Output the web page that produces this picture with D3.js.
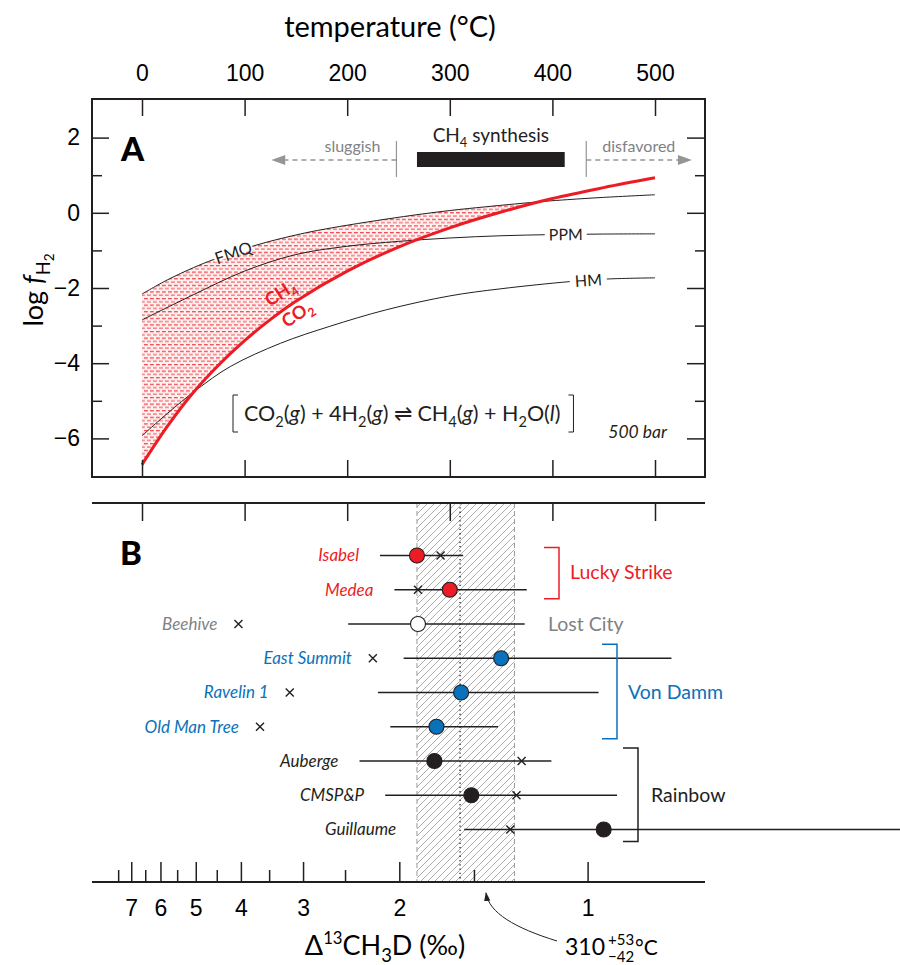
<!DOCTYPE html>
<html>
<head>
<meta charset="utf-8">
<script src="https://cdn.jsdelivr.net/npm/d3@7"></script>
<style>
  body { margin: 0; background: #fff; }
  svg { font-family: "Lato", "Open Sans", sans-serif; }
</style>
</head>
<body>
<svg id="chart" width="900" height="965"></svg>
<script>
// ---------- Panel A: log fH2 buffers and CO2–CH4 equilibrium (500 bar) ----------
const tempTicks = [0, 100, 200, 300, 400, 500];
const logMajorTicks = [-6, -4, -2, 0, 2];
const logMinorTicks = [-5, -3, -1, 1];

const fmqT   = [0, 25, 50, 70, 110, 150, 185, 255, 300, 335, 390, 415, 450, 500];
const fmqLog = [-2.16, -1.78, -1.46, -1.24, -0.87, -0.59, -0.40, -0.10, 0.06, 0.16, 0.30, 0.35, 0.41, 0.48];

const ppmT   = [0, 50, 100, 150, 200, 250, 300, 350, 400, 450, 500];
const ppmLog = [-2.85, -2.18, -1.55, -1.11, -0.89, -0.76, -0.67, -0.61, -0.58, -0.565, -0.56];

const hmT    = [0, 25, 53, 86, 135, 183, 238, 300, 350, 417, 454, 500];
const hmLog  = [-5.93, -5.33, -4.71, -4.09, -3.47, -3.02, -2.58, -2.21, -2.02, -1.83, -1.76, -1.73];

const eqT    = [0, 25, 50, 75, 100, 125, 150, 200, 250, 300, 350, 400, 450, 500];
const eqLog  = [-6.70, -5.67, -4.78, -4.04, -3.40, -2.84, -2.35, -1.55, -0.91, -0.40, 0.02, 0.38, 0.67, 0.93];

// temperature windows drawn above the curves (°C)
const synthesisRange = [268, 412];
const sluggishBelow = 248, sluggishArrowTip = 126;
const disfavoredAbove = 433, disfavoredArrowTip = 536;

// ---------- Panel B: apparent Δ13CH3D temperatures (°C) ----------
const sites = ["Isabel", "Medea", "Beehive", "East Summit", "Ravelin 1", "Old Man Tree", "Auberge", "CMSP&P", "Guillaume"];
const fields = ["Lucky Strike", "Lucky Strike", "Lost City", "Von Damm", "Von Damm", "Von Damm", "Rainbow", "Rainbow", "Rainbow"];
const clumpedTemp = [268, 300, 269, 350, 311, 287, 285, 321, 450];
const clumpedLow  = [232, 246, 201, 255, 230, 242, 212, 237, 314];
const clumpedHigh = [313, 375, 373, 516, 445, 347, 399, 463, 760];
const ventTemp    = [291, 269, 94, 225, 144, 115, 370, 365, 359];

const meanTemp = 310, meanPlus = 53, meanMinus = 42;

const deltaMajorTicks = [1, 2, 3, 4, 5, 6, 7];
const deltaMinorTicks = [1.5, 2.5, 3.5, 4.5, 5.5, 6.5, 7.5];

// ---------- styling ----------
const ink = "#231f20";
const red = "#ed1c24";
const blue = "#0a72ba";
const grey = "#808285";
const lightGrey = "#939598";
const fieldStyle = {
  "Lucky Strike": { text: red,  fill: red },
  "Lost City":    { text: grey, fill: "#ffffff" },
  "Von Damm":     { text: blue, fill: blue },
  "Rainbow":      { text: ink,  fill: ink }
};

const svg = d3.select("#chart");
const box = { left: 92, right: 705, top: 99, bottom: 477 };

const x = d3.scaleLinear().domain([0, 500]).range([142, 655]);
const y = d3.scaleLinear().domain([-7, 3]).range([476, 100]);
const smooth = d3.curveCatmullRom.alpha(0.5);

// rich text helper: parts with optional sub / sup / italic
function rich(sel, parts, size) {
  let shift = 0;
  parts.forEach(p => {
    let target = 0, fs = size;
    if (p.sub) { target = size * 0.26; fs = size * 0.68; }
    if (p.sub2) { target = size * 0.42; fs = size * 0.5; }
    if (p.sup) { target = -size * 0.4; fs = size * 0.62; }
    const ts = sel.append("tspan").text(p.t).attr("dy", (target - shift).toFixed(2));
    if (fs !== size) ts.attr("font-size", fs.toFixed(1));
    if (p.i) ts.attr("font-style", "italic");
    if (p.dx) ts.attr("dx", p.dx);
    shift = target;
  });
}

const defs = svg.append("defs");

// red dash fill for the CH4-favoured field
const dash = defs.append("pattern").attr("id", "redDash")
  .attr("patternUnits", "userSpaceOnUse").attr("width", 6).attr("height", 6.6);
dash.append("rect").attr("width", 6).attr("height", 6.6).attr("fill", "#fff0f0");
dash.append("path").attr("d", "M0,1.6H3.8").attr("stroke", "#ee2a33").attr("stroke-width", 1.1);
dash.append("path").attr("d", "M3,4.9H6.8M-3,4.9H0.8").attr("stroke", "#f25c63").attr("stroke-width", 1.1);

// diagonal hatch for the mean-temperature band
const hatch = defs.append("pattern").attr("id", "hatch")
  .attr("patternUnits", "userSpaceOnUse").attr("width", 7).attr("height", 7);
hatch.append("path").attr("d", "M-1,8L8,-1M-1,1L1,-1M6,8L8,6")
  .attr("stroke", "#8a8a8a").attr("stroke-width", 0.7);

defs.append("marker").attr("id", "arrowHead").attr("viewBox", "0 0 10 10")
  .attr("refX", 9).attr("refY", 5).attr("markerWidth", 9).attr("markerHeight", 9)
  .attr("orient", "auto").attr("markerUnits", "userSpaceOnUse")
  .append("path").attr("d", "M0,1.5L10,5L0,8.5Z").attr("fill", ink);

// ================= Panel A =================
const gA = svg.append("g");

// clip to the area above the equilibrium line
defs.append("clipPath").attr("id", "aboveEq").append("path")
  .attr("d", d3.area().curve(smooth)
    .x((d, i) => x(eqT[i])).y0(y(3)).y1((d, i) => y(eqLog[i]))(eqT));

gA.append("path")
  .attr("d", d3.area().curve(smooth)
    .x((d, i) => x(fmqT[i])).y0(y(-7)).y1((d, i) => y(fmqLog[i]))(fmqT))
  .attr("fill", "url(#redDash)")
  .attr("clip-path", "url(#aboveEq)");

const lineOf = (ts, vs) => d3.line().curve(smooth)
  .x((d, i) => x(ts[i])).y((d, i) => y(vs[i]))(ts);

[[fmqT, fmqLog], [ppmT, ppmLog], [hmT, hmLog]].forEach(([ts, vs]) => {
  gA.append("path").attr("d", lineOf(ts, vs))
    .attr("fill", "none").attr("stroke", ink).attr("stroke-width", 1);
});
gA.append("path").attr("d", lineOf(eqT, eqLog))
  .attr("fill", "none").attr("stroke", red).attr("stroke-width", 3);

// buffer labels (with gaps in the lines)
const fmqAt = d3.scaleLinear().domain(fmqT).range(fmqLog);
const ppmAt = d3.scaleLinear().domain(ppmT).range(ppmLog);
const hmAt = d3.scaleLinear().domain(hmT).range(hmLog);
const eqAt = d3.scaleLinear().domain(eqT).range(eqLog);

function slopeAngle(fn, t) {
  const dx = x(t + 5) - x(t - 5), dy = y(fn(t + 5)) - y(fn(t - 5));
  return Math.atan2(dy, dx) * 180 / Math.PI;
}

function curveLabel(text, fn, t, gapW, size) {
  const px = x(t), py = y(fn(t)), ang = slopeAngle(fn, t);
  const g = gA.append("g").attr("transform", `translate(${px},${py}) rotate(${ang})`);
  g.append("rect").attr("x", -gapW / 2).attr("y", -3).attr("width", gapW).attr("height", 6).attr("fill", "#fff");
  g.append("text").attr("text-anchor", "middle").attr("dy", "0.36em")
    .attr("font-size", size).attr("fill", ink).text(text);
}
curveLabel("FMQ", fmqAt, 89, 40, 16.5);
curveLabel("PPM", ppmAt, 413, 42, 16);
curveLabel("HM", hmAt, 435, 37, 16);

// CH4 / CO2 labels along the equilibrium line
{
  const t = 146, px = x(t), py = y(eqAt(t));
  gA.append("text").attr("transform", `translate(${px - 8},${py - 6}) rotate(-33)`)
    .attr("text-anchor", "middle").attr("dy", "0.35em")
    .attr("font-size", 18).attr("font-weight", 700).attr("fill", red)
    .call(s => rich(s, [{ t: "CH" }, { t: "4", sub: true }], 18));
  gA.append("text").attr("transform", `translate(${px + 9},${py + 15}) rotate(-33)`)
    .attr("text-anchor", "middle").attr("dy", "0.35em")
    .attr("font-size", 18).attr("font-weight", 700).attr("fill", red)
    .call(s => rich(s, [{ t: "CO" }, { t: "2", sub: true }], 18));
}

// synthesis window annotations
const arrowY = 160;
gA.append("rect")
  .attr("x", x(synthesisRange[0])).attr("y", 152)
  .attr("width", x(synthesisRange[1]) - x(synthesisRange[0])).attr("height", 15)
  .attr("fill", ink);
gA.append("text").attr("x", (x(synthesisRange[0]) + x(synthesisRange[1])) / 2).attr("y", 142)
  .attr("text-anchor", "middle").attr("font-size", 19).attr("fill", ink)
  .call(s => rich(s, [{ t: "CH" }, { t: "4", sub: true }, { t: " synthesis" }], 19));

[[sluggishBelow, sluggishArrowTip, "sluggish", "end", -16], [disfavoredAbove, disfavoredArrowTip, "disfavored", "start", 16]]
  .forEach(([from, tip, label, anchor, off]) => {
    gA.append("line").attr("x1", x(from)).attr("x2", x(from)).attr("y1", 141).attr("y2", 177)
      .attr("stroke", lightGrey).attr("stroke-width", 1.2);
    const dir = Math.sign(x(tip) - x(from));
    gA.append("line").attr("x1", x(from)).attr("x2", x(tip) - dir * 12).attr("y1", arrowY).attr("y2", arrowY)
      .attr("stroke", lightGrey).attr("stroke-width", 1.6).attr("stroke-dasharray", "5,4");
    gA.append("path")
      .attr("d", `M${x(tip)},${arrowY}L${x(tip) - dir * 14},${arrowY - 5}L${x(tip) - dir * 14},${arrowY + 5}Z`)
      .attr("fill", lightGrey);
    gA.append("text").attr("x", x(from) + off).attr("y", 152)
      .attr("text-anchor", anchor).attr("font-size", 16).attr("fill", grey).text(label);
  });

// reaction
{
  const eq = gA.append("text").attr("x", 244).attr("y", 421).attr("font-size", 21.5).attr("fill", ink);
  rich(eq, [
    { t: "CO" }, { t: "2", sub: true }, { t: "(" }, { t: "g", i: true }, { t: ") + 4H" }, { t: "2", sub: true },
    { t: "(" }, { t: "g", i: true }, { t: ") \u21CC CH" }, { t: "4", sub: true }, { t: "(" }, { t: "g", i: true },
    { t: ") + H" }, { t: "2", sub: true }, { t: "O(" }, { t: "l", i: true }, { t: ")" }
  ], 21.5);
  const bb = eq.node().getBBox();
  const l = bb.x - 11, r = bb.x + bb.width + 13;
  gA.append("path").attr("d", `M${l + 5},395H${l}V432H${l + 5}M${r - 5},395H${r}V432H${r - 5}`)
    .attr("fill", "none").attr("stroke", ink).attr("stroke-width", 1);
}
gA.append("text").attr("x", 667).attr("y", 438).attr("text-anchor", "end")
  .attr("font-size", 17.5).attr("font-style", "italic").attr("fill", ink).text("500 bar");

gA.append("text").attr("x", 121).attr("y", 161).attr("font-size", 33).attr("font-weight", 900)
  .attr("fill", "#000").text("A");

// axes of panel A
function styleAxis(g, size) {
  g.select(".domain").remove();
  g.selectAll("line").attr("stroke", ink).attr("stroke-width", 1.5);
  g.selectAll("text").attr("font-size", size).attr("fill", "#000").attr("font-family", null);
}
gA.append("g").attr("transform", `translate(0,${box.top})`)
  .call(d3.axisTop(x).tickValues(tempTicks).tickSize(-17).tickPadding(18).tickFormat(d3.format("d")))
  .call(g => styleAxis(g, 23));
gA.append("g").attr("transform", `translate(0,${box.bottom})`)
  .call(d3.axisBottom(x).tickValues(tempTicks).tickSize(-17).tickFormat(""))
  .call(g => styleAxis(g, 0));
gA.append("g").attr("transform", `translate(${box.left},0)`)
  .call(d3.axisLeft(y).tickValues(logMajorTicks).tickSize(-17).tickPadding(12))
  .call(g => styleAxis(g, 23));
gA.append("g").attr("transform", `translate(${box.left},0)`)
  .call(d3.axisLeft(y).tickValues(logMinorTicks).tickSize(-10).tickFormat(""))
  .call(g => styleAxis(g, 0));
gA.append("g").attr("transform", `translate(${box.right},0)`)
  .call(d3.axisRight(y).tickValues(logMajorTicks).tickSize(-18).tickFormat(""))
  .call(g => styleAxis(g, 0));
gA.append("g").attr("transform", `translate(${box.right},0)`)
  .call(d3.axisRight(y).tickValues(logMinorTicks).tickSize(-10).tickFormat(""))
  .call(g => styleAxis(g, 0));
gA.append("rect").attr("x", box.left).attr("y", box.top)
  .attr("width", box.right - box.left).attr("height", box.bottom - box.top)
  .attr("fill", "none").attr("stroke", ink).attr("stroke-width", 2);

svg.append("text").attr("x", 390).attr("y", 37).attr("text-anchor", "middle")
  .attr("font-size", 29).attr("fill", "#000").text("temperature (\u00B0C)");

{
  const yt = svg.append("text").attr("transform", "translate(43,290) rotate(-90)")
    .attr("text-anchor", "middle").attr("font-size", 27).attr("fill", "#000");
  rich(yt, [{ t: "log " }, { t: "f", i: true }, { t: "H", sub: true }, { t: "2", sub2: true }], 27);
}

// ================= Panel B =================
const gB = svg.append("g");
const bTop = 503, bBottom = 882;
const row = d3.scalePoint().domain(sites).range([555.5, 829.5]);

// Δ13CH3D equilibrium calibration, cubic in u = 1000/T(K)
const deltaOfTemp = tC => {
  const u = 1000 / (tC + 273.15);
  return -0.1101 * u * u * u + 1.0415 * u * u - 0.5223 * u - 0.0317;
};
function tempOfDelta(d) {
  let lo = -80, hi = 1000;
  for (let k = 0; k < 60; k++) {
    const mid = (lo + hi) / 2;
    if (deltaOfTemp(mid) > d) lo = mid; else hi = mid;
  }
  return (lo + hi) / 2;
}
const deltaSamples = d3.range(0.8, 8.01, 0.05);
const deltaX = d3.scaleLinear().domain(deltaSamples).range(deltaSamples.map(d => x(tempOfDelta(d))));

// band of the mean temperature
gB.append("rect").attr("x", x(meanTemp - meanMinus)).attr("y", bTop)
  .attr("width", x(meanTemp + meanPlus) - x(meanTemp - meanMinus)).attr("height", bBottom - bTop)
  .attr("fill", "url(#hatch)");
[meanTemp - meanMinus, meanTemp + meanPlus].forEach(t => {
  gB.append("line").attr("x1", x(t)).attr("x2", x(t)).attr("y1", bTop).attr("y2", bBottom)
    .attr("stroke", "#9a9a9a").attr("stroke-width", 1).attr("stroke-dasharray", "5,3");
});
gB.append("line").attr("x1", x(meanTemp)).attr("x2", x(meanTemp)).attr("y1", bTop).attr("y2", bBottom)
  .attr("stroke", ink).attr("stroke-width", 1.3).attr("stroke-dasharray", "1.3,3");

// axis lines of panel B
gB.append("g").attr("transform", `translate(0,${bTop})`)
  .call(d3.axisBottom(x).tickValues(tempTicks).tickSize(18).tickFormat(""))
  .call(g => styleAxis(g, 0));
gB.append("line").attr("x1", box.left).attr("x2", box.right).attr("y1", bTop).attr("y2", bTop)
  .attr("stroke", ink).attr("stroke-width", 2);
gB.append("g").attr("transform", `translate(0,${bBottom})`)
  .call(d3.axisBottom(deltaX).tickValues(deltaMajorTicks).tickSize(-20).tickPadding(18).tickFormat(d3.format("d")))
  .call(g => styleAxis(g, 23));
gB.append("g").attr("transform", `translate(0,${bBottom})`)
  .call(d3.axisBottom(deltaX).tickValues(deltaMinorTicks).tickSize(-12).tickFormat(""))
  .call(g => styleAxis(g, 0));
gB.append("line").attr("x1", box.left).attr("x2", box.right).attr("y1", bBottom).attr("y2", bBottom)
  .attr("stroke", ink).attr("stroke-width", 2);

// rows
const rows = sites.map((s, i) => ({
  site: s, field: fields[i], t: clumpedTemp[i], lo: clumpedLow[i], hi: clumpedHigh[i], vent: ventTemp[i]
}));
gB.selectAll(".err").data(rows).join("line")
  .attr("x1", d => x(d.lo)).attr("x2", d => x(d.hi))
  .attr("y1", d => row(d.site)).attr("y2", d => row(d.site))
  .attr("stroke", ink).attr("stroke-width", 1.3);
gB.selectAll(".vent").data(rows).join("path")
  .attr("d", d => { const cx = x(d.vent), cy = row(d.site); return `M${cx - 4},${cy - 4}L${cx + 4},${cy + 4}M${cx - 4},${cy + 4}L${cx + 4},${cy - 4}`; })
  .attr("stroke", ink).attr("stroke-width", 1.4);
gB.selectAll(".pt").data(rows).join("circle")
  .attr("cx", d => x(d.t)).attr("cy", d => row(d.site)).attr("r", 7.5)
  .attr("fill", d => fieldStyle[d.field].fill).attr("stroke", ink).attr("stroke-width", 1.1);

const labelGap = { "Guillaume": 68 };
gB.selectAll(".site").data(rows).join("text")
  .attr("x", d => x(Math.min(d.lo, d.vent)) - (labelGap[d.site] || 21))
  .attr("y", d => row(d.site)).attr("dy", "0.35em")
  .attr("text-anchor", "end").attr("font-size", 17).attr("font-style", "italic")
  .attr("fill", d => fieldStyle[d.field].text).text(d => d.site);

// field brackets
const groups = [
  { name: "Lucky Strike", bx: 559, tx: 570, pad: [8, 9] },
  { name: "Lost City", bx: null, tx: 548 },
  { name: "Von Damm", bx: 617, tx: 628, pad: [14, 12] },
  { name: "Rainbow", bx: 638, tx: 651, pad: [13, 12] }
];
groups.forEach(gp => {
  const members = rows.filter(r => r.field === gp.name);
  const y0 = row(members[0].site), y1 = row(members[members.length - 1].site);
  const col = fieldStyle[gp.name].text;
  if (gp.bx !== null) {
    gB.append("path")
      .attr("d", `M${gp.bx - 15},${y0 - gp.pad[0]}H${gp.bx}V${y1 + gp.pad[1]}H${gp.bx - 15}`)
      .attr("fill", "none").attr("stroke", col).attr("stroke-width", 1.5);
  }
  gB.append("text").attr("x", gp.tx).attr("y", (y0 + y1) / 2).attr("dy", "0.35em")
    .attr("font-size", 19.5).attr("fill", col).text(gp.name);
});

gB.append("text").attr("x", 120).attr("y", 565).attr("font-size", 33).attr("font-weight", 900)
  .attr("fill", "#000").text("B");

{
  const xt = svg.append("text").attr("x", 385).attr("y", 955).attr("text-anchor", "middle")
    .attr("font-size", 27).attr("fill", "#000");
  rich(xt, [{ t: "\u0394" }, { t: "13", sup: true }, { t: "CH" }, { t: "3", sub: true }, { t: "D (\u2030)" }], 27);
}

// mean temperature callout
{
  const g = svg.append("g");
  const main = g.append("text").attr("x", 565).attr("y", 955).attr("font-size", 23).attr("fill", "#000").text(meanTemp);
  const w = main.node().getComputedTextLength();
  g.append("text").attr("x", 565 + w + 3).attr("y", 945).attr("font-size", 15).attr("fill", "#000").text("+" + meanPlus);
  g.append("text").attr("x", 565 + w + 3).attr("y", 962).attr("font-size", 15).attr("fill", "#000").text("\u2212" + meanMinus);
  g.append("text").attr("x", 565 + w + 30).attr("y", 955).attr("font-size", 21).attr("fill", "#000").text("\u00B0C");
  g.append("path").attr("d", `M557,941 C515,928 489,913 486,893`)
    .attr("fill", "none").attr("stroke", ink).attr("stroke-width", 1).attr("marker-end", "url(#arrowHead)");
}
</script>
</body>
</html>
